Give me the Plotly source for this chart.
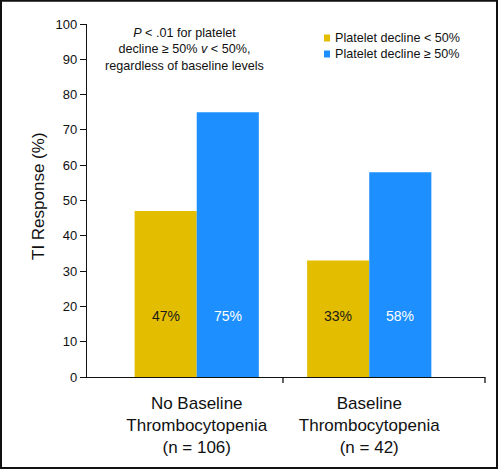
import plotly.graph_objects as go

# ---- data ----
categories = ["No Baseline Thrombocytopenia", "Baseline Thrombocytopenia"]
category_labels = ["No Baseline<br>Thrombocytopenia<br>(n = 106)",
                   "Baseline<br>Thrombocytopenia<br>(n = 42)"]
series_names = ["Platelet decline &lt; 50%", "Platelet decline ≥ 50%"]
decline_lt50 = [47, 33]
decline_ge50 = [75, 58]
y_ticks = [0, 10, 20, 30, 40, 50, 60, 70, 80, 90, 100]

colors = ["#E3BD00", "#1E8FFF"]
label_colors = ["#1a1a1a", "#ffffff"]
FONT = "Liberation Sans, Arial, Helvetica, sans-serif"

# plot area in pixels
L, R, T, B = 87, 15, 24, 93
W, H = 500, 470
PW, PH = W - L - R, H - T - B

def px_x(p):
    return (p - L) / PW

def px_y(q):
    return (H - B - q) / PH

fig = go.Figure()
all_series = [decline_lt50, decline_ge50]
for name, vals, col in zip(series_names, all_series, colors):
    fig.add_trace(go.Bar(x=categories, y=vals, name=name, marker_color=col,
                         marker_line_width=0, showlegend=False))

annotations = []
# value labels inside bars
bar_px = 62
for si, (vals, tc) in enumerate(zip(all_series, label_colors)):
    shift = (-0.5 if si == 0 else 0.5) * bar_px
    for cat, v in zip(categories, vals):
        annotations.append(dict(x=cat, y=17.3, xref="x", yref="y", text=f"{v}%",
                                showarrow=False, xshift=shift,
                                xanchor="center", yanchor="middle",
                                font=dict(family=FONT, size=14, color=tc)))

# y-axis title
annotations.append(dict(x=px_x(38), y=px_y(196), xref="paper", yref="paper",
                        xanchor="center", yanchor="middle",
                        text="TI Response (%)", textangle=-90, showarrow=False,
                        font=dict(family=FONT, size=17, color="#111")))
# p-value note
annotations.append(dict(x=px_x(184), y=px_y(50), xref="paper", yref="paper",
                        xanchor="center", yanchor="middle",
                        text="<i>P</i> &lt; .01 for platelet<br>decline ≥ 50% <i>v</i> &lt; 50%,<br>regardless of baseline levels",
                        showarrow=False, align="center",
                        font=dict(family=FONT, size=12.6, color="#111")))

shapes = []
# manual legend
leg_y = [38, 54]
for name, col, yy in zip(series_names, colors, leg_y):
    shapes.append(dict(type="rect", xref="paper", yref="paper",
                       x0=px_x(324), x1=px_x(330), y0=px_y(yy + 3.5), y1=px_y(yy - 3.5),
                       fillcolor=col, line_width=0))
    annotations.append(dict(x=px_x(333), y=px_y(yy), xref="paper", yref="paper",
                            xanchor="left", yanchor="middle", text=name, showarrow=False,
                            font=dict(family=FONT, size=12.6, color="#111")))

# x-axis tick marks at category boundary and axis end
for xv, ref in [(0.5, "x"), (1.0, "paper")]:
    shapes.append(dict(type="line", xref=ref, yref="paper", x0=xv, x1=xv,
                       y0=0, y1=-6 / PH, line=dict(color="#111", width=1.3)))

# outer frame
shapes.append(dict(type="rect", xref="paper", yref="paper",
                   x0=px_x(1), x1=px_x(497), y0=px_y(468), y1=px_y(0.8),
                   line=dict(color="#111", width=2), fillcolor="rgba(0,0,0,0)"))

fig.update_layout(
    width=W, height=H,
    margin=dict(l=L, r=R, t=T, b=B),
    paper_bgcolor="white", plot_bgcolor="white",
    barmode="group", bargap=0.28, bargroupgap=0,
    font=dict(family=FONT, color="#111"),
    annotations=annotations, shapes=shapes,
    showlegend=False,
)
fig.update_xaxes(type="category", range=[-0.636, 1.671], tickmode="array",
                 tickvals=categories, ticktext=category_labels,
                 ticks="outside", ticklen=10, tickcolor="rgba(0,0,0,0)",
                 showline=True, linecolor="#111", linewidth=1.3, showgrid=False,
                 tickfont=dict(family=FONT, size=17, color="#111"))
fig.update_yaxes(range=[0, 100], tickvals=y_ticks, ticks="outside", ticklen=6,
                 tickwidth=1.3, tickcolor="#111", showline=True, linecolor="#111",
                 linewidth=1.3, showgrid=False, zeroline=False,
                 tickfont=dict(family=FONT, size=13, color="#111"))

fig.write_html("out.html", config={"displayModeBar": False},
               post_script="document.body.style.margin='0';document.body.style.overflow='hidden';")
